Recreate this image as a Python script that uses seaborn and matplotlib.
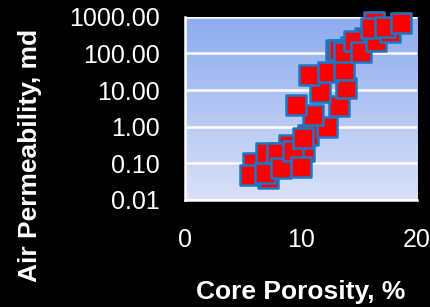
import numpy as np
import pandas as pd
import seaborn as sns
import matplotlib.pyplot as plt
from matplotlib.colors import LinearSegmentedColormap

# core data (partly hidden samples listed first so they sit underneath)
porosity = [16.3, 5.9, 7.2, 7.0, 9.0, 10.3, 10.6, 13.0, 15.0, 14.3, 15.5,
            5.6, 6.9, 7.9, 8.3, 9.3, 10.0, 10.15,
            12.2, 11.0, 9.6, 13.3, 11.6, 13.9, 10.7, 12.3, 13.7, 13.3, 13.7,
            14.6, 15.2, 16.5, 16.0, 17.7, 17.2, 18.6]
permeability = [720, 0.10, 0.04, 0.19, 0.32, 0.21, 0.60, 125, 190, 155, 262,
                0.048, 0.054, 0.19, 0.074, 0.21, 0.081, 0.49,
                1.0, 2.1, 4.0, 3.7, 9.1, 11.2, 26, 32, 36, 125, 112,
                213, 112, 213, 490, 397, 540, 670]
y_ticks = [0.01, 0.1, 1, 10, 100, 1000]
x_ticks = [0, 10, 20]

df = pd.DataFrame({'phi': porosity, 'k': permeability})

sns.set_style('white')
plt.rcParams['font.family'] = ['Liberation Sans', 'DejaVu Sans']

fig = plt.figure(figsize=(4.3, 3.07), dpi=100, facecolor='black')
pos = [0.430, 0.349, 0.540, 0.596]

# blue gradient behind the plot area
bg = fig.add_axes(pos, zorder=0)
grad = LinearSegmentedColormap.from_list('bg', ['#d8e1f7', '#8dabef'])
bg.imshow(np.linspace(0, 1, 256)[:, None], cmap=grad, aspect='auto',
          origin='lower', extent=[0, 1, 0, 1])
bg.set_axis_off()

ax = fig.add_axes(pos, zorder=1)
ax.set_facecolor('none')
ax.set_yscale('log')
sns.scatterplot(data=df, x='phi', y='k', marker='s', s=210, color='#ff0000',
                edgecolor='#1a78c8', linewidth=1.8, ax=ax, zorder=3, clip_on=False)

ax.set_xlim(0, 20)
ax.set_ylim(0.01, 1000)
ax.set_xticks(x_ticks)
ax.set_yticks(y_ticks)
ax.set_yticklabels([f'{v:.2f}' for v in y_ticks])
ax.yaxis.set_minor_locator(plt.NullLocator())

ax.grid(axis='y', color='white', linewidth=1.8)
ax.grid(axis='x', visible=False)
ax.set_axisbelow(True)
for side in ['top', 'right']:
    ax.spines[side].set_visible(False)
for side in ['left', 'bottom']:
    ax.spines[side].set_color('white')
    ax.spines[side].set_linewidth(1.8)

ax.tick_params(axis='both', colors='white', labelsize=18, length=6, width=1.5,
               direction='out')
ax.tick_params(axis='y', pad=12)
ax.tick_params(axis='x', pad=14)
ax.set_xlabel('')
ax.set_ylabel('')

fig.text(301 / 430, 1 - 292 / 307, 'Core Porosity, %', color='white', fontsize=19,
         fontweight='bold', ha='center', va='center')
fig.text(30 / 430, 1 - 155 / 307, 'Air Permeability, md', color='white', fontsize=19,
         fontweight='bold', ha='center', va='center', rotation=90)

fig.savefig('out.png', dpi=100, facecolor='black')
